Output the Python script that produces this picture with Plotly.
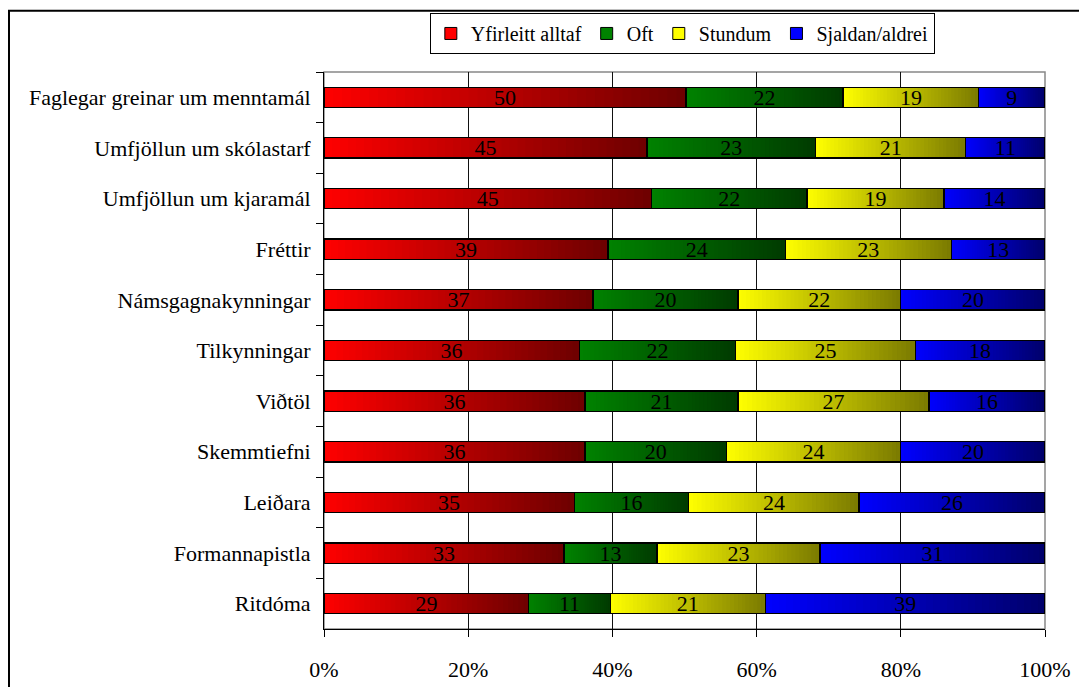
import plotly.graph_objects as go

categories = ["Faglegar greinar um menntamál", "Umfjöllun um skólastarf", "Umfjöllun um kjaramál",
              "Fréttir", "Námsgagnakynningar", "Tilkynningar", "Viðtöl", "Skemmtiefni",
              "Leiðara", "Formannapistla", "Ritdóma"]
series_names = ["Yfirleitt alltaf", "Oft", "Stundum", "Sjaldan/aldrei"]

# shares (%)
yfirleitt = [50.2, 44.8, 45.4, 39.4, 37.3, 35.4, 36.2, 36.2, 34.7, 33.3, 28.4]
oft = [21.8, 23.4, 21.6, 24.6, 20.1, 21.7, 21.2, 19.6, 15.9, 12.9, 11.3]
stundum = [18.8, 20.8, 19.0, 23.0, 22.6, 24.9, 26.5, 24.2, 23.6, 22.6, 21.5]
sjaldan = [9.2, 11.0, 14.0, 13.0, 20.0, 18.0, 16.1, 20.0, 25.8, 31.2, 38.8]

# printed labels
lab_yfirleitt = [50, 45, 45, 39, 37, 36, 36, 36, 35, 33, 29]
lab_oft = [22, 23, 22, 24, 20, 22, 21, 20, 16, 13, 11]
lab_stundum = [19, 21, 19, 23, 22, 25, 27, 24, 24, 23, 21]
lab_sjaldan = [9, 11, 14, 13, 20, 18, 16, 20, 26, 31, 39]

tick_vals = [0, 20, 40, 60, 80, 100]
tick_text = ["0%", "20%", "40%", "60%", "80%", "100%"]

series_vals = [yfirleitt, oft, stundum, sjaldan]
series_labels = [lab_yfirleitt, lab_oft, lab_stundum, lab_sjaldan]
start_cols = [(255, 0, 0), (0, 130, 0), (255, 255, 0), (0, 0, 255)]
end_factor = [0.43, 0.45, 0.48, 0.42]

FONT = "Liberation Serif, Times New Roman, serif"
N = 40

fig = go.Figure()

# gradient-filled segments (each segment split into N thin slices)
for vals, c0, f in zip(series_vals, start_cols, end_factor):
    for k in range(N):
        t = (k + 0.5) / N
        fac = 1 - (1 - f) * t
        col = "rgb(%d,%d,%d)" % tuple(round(c * fac) for c in c0)
        fig.add_trace(go.Bar(
            y=categories, x=[v / N for v in vals], orientation="h",
            marker=dict(color=col, line=dict(color=col, width=0.6)),
            showlegend=False, hoverinfo="skip", xaxis="x", yaxis="y",
        ))

# outlines + labels on overlaid axis
for vals, labs in zip(series_vals, series_labels):
    fig.add_trace(go.Bar(
        y=categories, x=vals, orientation="h",
        marker=dict(color="rgba(0,0,0,0)", line=dict(color="black", width=1.3)),
        text=[str(v) for v in labs], textposition="inside", insidetextanchor="middle",
        textangle=0, constraintext="none",
        textfont=dict(family=FONT, size=22, color="black"),
        showlegend=False, hoverinfo="skip", xaxis="x", yaxis="y2",
    ))

# legend entries
for name, c0 in zip(series_names, start_cols):
    fig.add_trace(go.Bar(
        x=[None], y=[None], orientation="h", name=name,
        marker=dict(color="rgb(%d,%d,%d)" % c0, line=dict(color="black", width=1)),
        xaxis="x", yaxis="y",
    ))

fig.update_layout(
    width=1071, height=679,
    margin=dict(l=316, r=34, t=64, b=58, autoexpand=False),
    barmode="stack", bargap=0.6,
    paper_bgcolor="white", plot_bgcolor="white",
    font=dict(family=FONT, size=22, color="black"),
    xaxis=dict(range=[0, 100], tickmode="array", tickvals=tick_vals, ticktext=tick_text,
               showgrid=True, gridcolor="#111", gridwidth=1,
               showline=True, linecolor="black", linewidth=1,
               ticks="outside", ticklen=7, tickcolor="black",
               ticklabelstandoff=14, zeroline=False, automargin=False,
               tickfont=dict(family=FONT, size=22, color="black")),
    yaxis=dict(categoryorder="array", categoryarray=categories, autorange="reversed",
               showline=True, linecolor="black", linewidth=1,
               ticks="outside", tickson="boundaries", ticklen=7, tickcolor="black",
               ticklabelstandoff=8, showgrid=False, automargin=False,
               tickfont=dict(family=FONT, size=22, color="black")),
    yaxis2=dict(categoryorder="array", categoryarray=categories, autorange="reversed",
                overlaying="y", visible=False),
    legend=dict(orientation="h", x=0.497, xanchor="center", y=1.106, yanchor="top",
                bordercolor="black", borderwidth=1, bgcolor="white",
                font=dict(family=FONT, size=20, color="black"), traceorder="normal",
                itemwidth=30),
    shapes=[
        dict(type="rect", xref="paper", yref="paper", x0=0, x1=1, y0=0, y1=1,
             line=dict(color="#888", width=1.5), layer="below"),
        dict(type="rect", xref="paper", yref="paper", x0=-0.4369, x1=1.3, y0=-0.3, y1=1.11,
             line=dict(color="black", width=2), layer="above"),
    ],
)

fig.write_html("out.html")
